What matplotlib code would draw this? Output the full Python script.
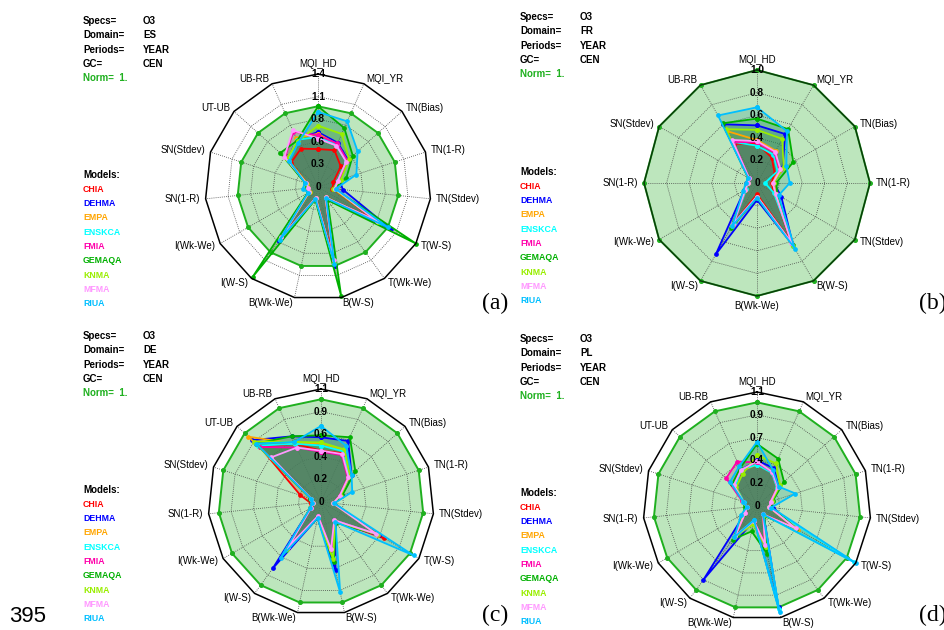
import numpy as np
import matplotlib
matplotlib.use("Agg")
import matplotlib.pyplot as plt
from matplotlib.colors import to_rgb
from matplotlib import font_manager

plt.rcParams['font.family'] = ['Liberation Sans', 'DejaVu Sans']

W, H = 945, 630

models = ["CHIA", "DEHMA", "EMPA", "ENSKCA", "FMIA", "GEMAQA", "KNMA", "MFMA", "RIUA"]
model_colors = ["#ff0000", "#0000ff", "#ffa500", "#00ffff", "#ff00aa",
                "#00b000", "#99ee00", "#ff99ff", "#00bfff"]

axes15 = ["MQI_HD", "MQI_YR", "TN(Bias)", "TN(1-R)", "TN(Stdev)", "T(W-S)", "T(Wk-We)",
          "B(W-S)", "B(Wk-We)", "I(W-S)", "I(Wk-We)", "SN(1-R)", "SN(Stdev)", "UT-UB", "UB-RB"]
axes12 = ["MQI_HD", "MQI_YR", "TN(Bias)", "TN(1-R)", "TN(Stdev)", "B(W-S)", "B(Wk-We)",
          "I(W-S)", "I(Wk-We)", "SN(1-R)", "SN(Stdev)", "UB-RB"]

# (a) ES
vals_es = [
    [0.47, 0.50, 0.38, 0.20, 0.18, 0.80, 0.16, 0.85, 0.14, 0.75, 0.12, 0.12, 0.14, 0.45, 0.52],
    [0.68, 0.60, 0.50, 0.28, 0.31, 1.05, 0.18, 1.00, 0.15, 0.82, 0.14, 0.13, 0.16, 0.50, 0.65],
    [0.66, 0.58, 0.48, 0.27, 0.20, 0.87, 0.16, 0.95, 0.14, 0.80, 0.13, 0.12, 0.15, 0.48, 0.66],
    [0.62, 0.57, 0.47, 0.26, 0.20, 0.88, 0.17, 0.95, 0.15, 0.81, 0.13, 0.14, 0.16, 0.50, 0.64],
    [0.64, 0.59, 0.49, 0.27, 0.22, 0.82, 0.16, 0.92, 0.14, 0.76, 0.13, 0.12, 0.15, 0.55, 0.75],
    [1.00, 0.80, 0.58, 0.37, 0.20, 1.40, 0.20, 1.38, 0.16, 1.38, 0.15, 0.14, 0.17, 0.63, 0.63],
    [0.76, 0.72, 0.52, 0.30, 0.19, 0.86, 0.16, 0.96, 0.14, 0.80, 0.12, 0.12, 0.14, 0.52, 0.62],
    [0.60, 0.56, 0.47, 0.26, 0.21, 0.84, 0.16, 0.93, 0.14, 0.77, 0.13, 0.12, 0.15, 0.56, 0.77],
    [0.93, 0.89, 0.66, 0.50, 0.22, 1.00, 0.17, 0.97, 0.15, 0.81, 0.14, 0.19, 0.17, 0.48, 0.60],
]
# (b) FR
vals_fr = [
    [0.35, 0.26, 0.18, 0.13, 0.17, 0.60, 0.10, 0.40, 0.12, 0.10, 0.08, 0.40],
    [0.51, 0.50, 0.26, 0.15, 0.25, 0.64, 0.15, 0.73, 0.13, 0.08, 0.09, 0.60],
    [0.38, 0.33, 0.22, 0.14, 0.19, 0.62, 0.12, 0.43, 0.12, 0.08, 0.09, 0.53],
    [0.33, 0.29, 0.21, 0.07, 0.17, 0.64, 0.12, 0.41, 0.11, 0.09, 0.08, 0.42],
    [0.36, 0.31, 0.23, 0.15, 0.20, 0.62, 0.12, 0.42, 0.12, 0.08, 0.08, 0.42],
    [0.57, 0.55, 0.37, 0.17, 0.21, 0.63, 0.13, 0.46, 0.13, 0.09, 0.09, 0.61],
    [0.47, 0.45, 0.27, 0.15, 0.19, 0.64, 0.12, 0.44, 0.12, 0.08, 0.09, 0.55],
    [0.37, 0.32, 0.24, 0.14, 0.19, 0.61, 0.12, 0.42, 0.12, 0.08, 0.08, 0.44],
    [0.67, 0.53, 0.30, 0.29, 0.22, 0.67, 0.13, 0.44, 0.14, 0.10, 0.09, 0.69],
]
# (c) DE
vals_de = [
    [0.50, 0.52, 0.36, 0.19, 0.12, 0.71, 0.22, 0.50, 0.15, 0.55, 0.12, 0.10, 0.21, 0.80, 0.62],
    [0.63, 0.65, 0.40, 0.21, 0.13, 0.65, 0.24, 0.68, 0.16, 0.80, 0.12, 0.08, 0.10, 0.90, 0.70],
    [0.57, 0.55, 0.37, 0.20, 0.12, 0.64, 0.23, 0.55, 0.15, 0.57, 0.12, 0.08, 0.10, 0.95, 0.62],
    [0.55, 0.54, 0.37, 0.20, 0.12, 0.63, 0.22, 0.55, 0.15, 0.58, 0.12, 0.08, 0.10, 0.82, 0.62],
    [0.49, 0.50, 0.35, 0.19, 0.12, 0.62, 0.22, 0.48, 0.14, 0.54, 0.11, 0.08, 0.10, 0.80, 0.58],
    [0.65, 0.69, 0.45, 0.22, 0.13, 0.62, 0.25, 0.60, 0.16, 0.58, 0.12, 0.08, 0.11, 0.85, 0.70],
    [0.58, 0.56, 0.38, 0.20, 0.12, 0.63, 0.23, 0.57, 0.15, 0.57, 0.12, 0.08, 0.10, 0.88, 0.64],
    [0.50, 0.51, 0.36, 0.19, 0.12, 0.62, 0.22, 0.47, 0.14, 0.54, 0.11, 0.08, 0.10, 0.65, 0.58],
    [0.74, 0.60, 0.40, 0.32, 0.13, 1.04, 0.24, 0.90, 0.16, 0.67, 0.12, 0.09, 0.10, 0.85, 0.64],
]
# (d) PL
vals_pl = [
    [0.41, 0.35, 0.26, 0.14, 0.12, 0.42, 0.10, 0.38, 0.15, 0.36, 0.13, 0.10, 0.14, 0.28, 0.37],
    [0.44, 0.40, 0.28, 0.14, 0.16, 0.42, 0.11, 1.00, 0.14, 0.88, 0.13, 0.10, 0.13, 0.30, 0.38],
    [0.40, 0.36, 0.26, 0.14, 0.12, 0.46, 0.10, 0.38, 0.15, 0.36, 0.13, 0.10, 0.14, 0.30, 0.37],
    [0.40, 0.35, 0.26, 0.15, 0.12, 1.08, 0.10, 1.02, 0.14, 0.36, 0.16, 0.10, 0.13, 0.28, 0.38],
    [0.42, 0.36, 0.27, 0.14, 0.13, 0.43, 0.10, 0.38, 0.15, 0.37, 0.13, 0.10, 0.15, 0.40, 0.47],
    [0.60, 0.50, 0.35, 0.16, 0.14, 0.44, 0.12, 0.47, 0.25, 0.40, 0.15, 0.12, 0.14, 0.32, 0.40],
    [0.49, 0.45, 0.30, 0.15, 0.12, 0.42, 0.11, 0.40, 0.18, 0.37, 0.14, 0.10, 0.14, 0.27, 0.34],
    [0.43, 0.36, 0.27, 0.14, 0.12, 0.43, 0.10, 0.38, 0.15, 0.36, 0.13, 0.10, 0.14, 0.30, 0.38],
    [0.62, 0.38, 0.28, 0.39, 0.14, 1.10, 0.10, 1.05, 0.14, 0.37, 0.18, 0.10, 0.14, 0.35, 0.42],
]

domains = ["ES", "FR", "DE", "PL"]
rmax_list = [1.4, 1.0, 1.1, 1.1]
ring_labels = [["0", "0.3", "0.6", "0.8", "1.1", "1.4"],
               ["0", "0.2", "0.4", "0.6", "0.8", "1.0"],
               ["0", "0.2", "0.4", "0.6", "0.9", "1.1"],
               ["0", "0.2", "0.4", "0.7", "0.9", "1.1"]]
norm = 1.0
panel_tags = ["(a)", "(b)", "(c)", "(d)"]

# layout in pixels: radar centre, radius, header top, legend top, tag position
centres = [(318, 187), (757, 183), (321, 502), (757, 506)]
radius_px = [113, 113, 113, 114]
header_xy = [(83, 21), (520, 17), (83, 336), (520, 339)]
legend_y = [175, 172, 490, 493]
tag_xy = [(495, 303), (933, 303), (495, 615), (933, 615)]

norm_green = "#1fb01f"
bg_green = "#bde6bd"
dark_base = np.array(to_rgb("#1f5a1f"))

# narrow face for the model names if it is there
names = {f.name for f in font_manager.fontManager.ttflist}
legend_family = ["Liberation Sans Narrow"] if "Liberation Sans Narrow" in names else ["Liberation Sans"]
legend_size = 7.2 if legend_family[0] == "Liberation Sans Narrow" else 6.3


def px(x, y):
    return x / W, 1 - y / H


fig = plt.figure(figsize=(W / 100, H / 100), dpi=100)

panels = [(axes15, vals_es), (axes12, vals_fr), (axes15, vals_de), (axes15, vals_pl)]

for k, (labels, vals) in enumerate(panels):
    cx, cy = centres[k]
    rp = radius_px[k]
    rmax = rmax_list[k]
    pad = 1.2
    x0, y0 = px(cx - rp * pad, cy + rp * pad)
    ax = fig.add_axes([x0, y0, 2 * rp * pad / W, 2 * rp * pad / H])
    ax.set_xlim(-rmax * pad, rmax * pad)
    ax.set_ylim(-rmax * pad, rmax * pad)
    ax.axis("off")

    n = len(labels)
    ang = np.deg2rad(90 - np.arange(n) * 360.0 / n)
    ca, sa = np.cos(ang), np.sin(ang)
    closed = lambda a: np.append(a, a[0])

    # norm polygon (filled)
    ax.fill(closed(norm * ca), closed(norm * sa), color=bg_green, zorder=1, lw=0)

    # grid rings and spokes
    for j in range(1, 5):
        r = rmax * j / 5
        ax.plot(closed(r * ca), closed(r * sa), color="#444444", lw=0.6, ls=(0, (1, 1.5)), zorder=2)
    for i in range(n):
        ax.plot([0, rmax * ca[i]], [0, rmax * sa[i]], color="#444444", lw=0.6, ls=(0, (1, 1.5)), zorder=2)

    # model fills
    for m, v in enumerate(vals):
        v = np.array(v)
        fc = 0.5 * np.array(to_rgb(model_colors[m])) + 0.5 * dark_base
        ax.fill(closed(v * ca), closed(v * sa), color=fc, alpha=0.22, lw=0, zorder=3)

    # norm outline
    ax.plot(closed(norm * ca), closed(norm * sa), color=norm_green, lw=1.4, zorder=4,
            marker="o", ms=2.6)

    # model lines
    for m, v in enumerate(vals):
        v = np.array(v)
        ax.plot(closed(v * ca), closed(v * sa), color=model_colors[m], lw=1.3,
                marker="o", ms=2.4, zorder=5)

    # outer frame
    ax.plot(closed(rmax * ca), closed(rmax * sa), color="black",
            lw=1.1, alpha=0.65 if rmax == norm else 1.0, zorder=6)

    # ring labels along the first axis
    for j, t in enumerate(ring_labels[k]):
        ax.text(0, rmax * j / 5, t, ha="center", va="center", fontsize=7.3,
                fontweight="bold", zorder=8)

    # axis labels
    for i, lab in enumerate(labels):
        c, s = ca[i], sa[i]
        if abs(c) < 0.15:
            r = rmax * 1.04
            ha = "center"
            va = "bottom" if s > 0 else "top"
        else:
            r = rmax * 1.05
            ha = "left" if c > 0 else "right"
            va = "center"
        ax.text(r * c, r * s, lab, ha=ha, va=va, fontsize=7, clip_on=False, zorder=8)

    # header block
    hx, hy = header_xy[k]
    head = [("Specs=", "O3"), ("Domain=", domains[k]), ("Periods=", "YEAR"), ("GC=", "CEN")]
    for j, (a, b) in enumerate(head):
        fig.text(*px(hx, hy + j * 14.3), a, fontsize=7, fontweight="bold", va="center")
        fig.text(*px(hx + 60, hy + j * 14.3), b, fontsize=7, fontweight="bold", va="center")
    fig.text(*px(hx, hy + 4 * 14.3), "Norm=  1.", fontsize=7, fontweight="bold",
             va="center", color=norm_green)

    # model legend
    ly = legend_y[k]
    fig.text(*px(hx, ly), "Models:", fontsize=7, fontweight="bold", va="center")
    for m, name in enumerate(models):
        fig.text(*px(hx, ly + (m + 1) * 14.3), name, fontsize=legend_size, fontweight="bold",
                 family=legend_family, va="center", color=model_colors[m])

    fig.text(*px(*tag_xy[k]), panel_tags[k], fontsize=17, family="Liberation Serif",
             ha="center", va="center")

fig.text(*px(28, 616), "395", fontsize=16, ha="center", va="center")

fig.savefig("out.png", dpi=100)
